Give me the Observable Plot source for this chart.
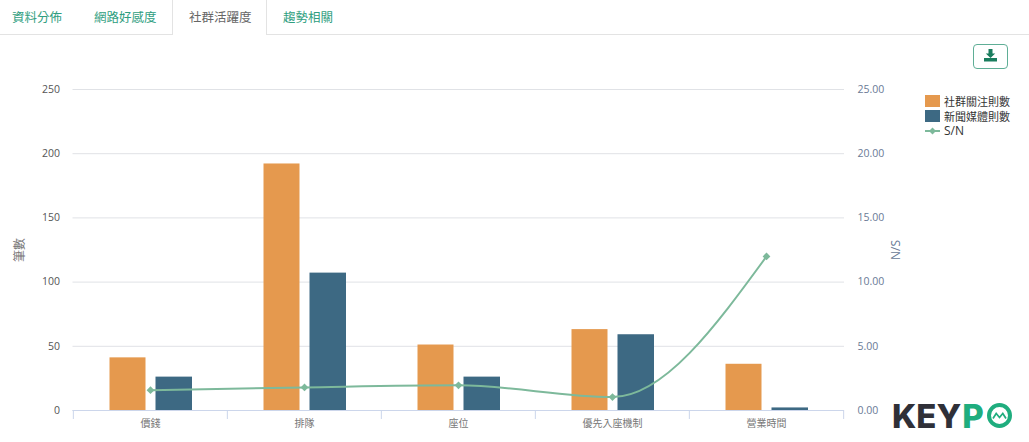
<!DOCTYPE html>
<html lang="zh-Hant"><head><meta charset="utf-8">
<script src="https://cdn.jsdelivr.net/npm/d3@7"></script>
<script src="https://cdn.jsdelivr.net/npm/@observablehq/plot@0.6"></script>
<style>
html,body{margin:0;padding:0;background:#fff;width:1029px;height:442px;overflow:hidden;font-family:"Open Sans","Noto Sans CJK TC",sans-serif}
#chart{position:absolute;left:0;top:0}
#chart svg{display:block;font-family:"Open Sans","Noto Sans CJK TC",sans-serif}
.tabline{position:absolute;left:0;top:34px;width:1029px;height:1px;background:#e3e3e3}
.tab{position:absolute;top:8px;font:12.5px "Noto Sans CJK TC",sans-serif;color:#2f9e80;white-space:nowrap;line-height:18px}
.active{position:absolute;left:172px;top:0;width:95px;height:35px;background:#fff;border-left:1px solid #e3e3e3;border-right:1px solid #e3e3e3;box-sizing:border-box}
.btn{position:absolute;left:973px;top:44px;width:35px;height:25px;border:1px solid #5fae96;border-radius:4px;box-sizing:border-box}
.btn svg{position:absolute;left:10px;top:3px}
.lg{position:absolute;left:944px;font:11px "Noto Sans CJK TC",sans-serif;color:#333;white-space:nowrap;line-height:14px}
.sw{position:absolute;left:925px;width:15px;height:12px}
.logo{position:absolute;left:892px;top:399px;font:800 33px/34px Inter,sans-serif;color:#2f3038;white-space:nowrap}
.logo b{color:#1fad7e;font-weight:800;margin-left:1px}
.mark{position:absolute;left:987px;top:403px}
</style></head><body>
<div id="chart"></div>
<div class="tabline"></div><div class="active"></div>
<div class="tab" style="left:12px">資料分佈</div>
<div class="tab" style="left:94px">網路好感度</div>
<div class="tab" style="left:189px;color:#666">社群活躍度</div>
<div class="tab" style="left:283px">趨勢相關</div>
<div class="btn"><svg width="13" height="15" viewBox="0 0 13 15"><path d="M4.5 1h4v4.5h2.7L6.5 10 1.8 5.5h2.7z" fill="#1a7d5e"/><rect x="0" y="10" width="13" height="3.5" fill="#1a7d5e"/></svg></div>
<div class="sw" style="top:95px;background:#e5994e"></div><div class="lg" style="top:94px">社群關注則數</div>
<div class="sw" style="top:110px;background:#3d6983"></div><div class="lg" style="top:109px">新聞媒體則數</div>
<svg style="position:absolute;left:925px;top:126px" width="15" height="10"><path d="M0 5H15" stroke="#7db99b" stroke-width="2"/><path d="M7.5 1.5L11 5 7.5 8.5 4 5z" fill="#7db99b"/></svg>
<div class="lg" style="top:124px;font:12px/14px 'Open Sans',sans-serif">S/N</div>
<div class="logo">KEY<b>P</b></div>
<svg class="mark" width="25" height="25" viewBox="0 0 25 25"><circle cx="12.5" cy="12.5" r="10.5" fill="none" stroke="#1fad7e" stroke-width="4"/><path d="M6 15.5l3.2-5 3.3 4 3.3-4 3.2 5" fill="none" stroke="#1fad7e" stroke-width="1.7"/></svg>
<script>
const categories = ["價錢","排隊","座位","優先入座機制","營業時間"];
const socialCounts = [41,192,51,63,36];
const newsCounts = [26,107,26,59,2];
const snRatio = [1.58,1.8,1.96,1.05,12];
const leftTicks = [0,50,100,150,200,250];
const axisRatio = 10; // right axis 0-25 sits on left axis 0-250

const bandW = (844-72.5)/categories.length;
const rows = categories.map((c,i)=>({c,social:socialCounts[i],news:newsCounts[i],sn:snRatio[i]}));
const slate = "#6a7a96";

const plot = Plot.plot({
  width:1029, height:442,
  marginLeft:72.5, marginRight:185, marginTop:89, marginBottom:32,
  style:{fontSize:"10.5px",background:"transparent"},
  x:{domain:categories,padding:0,label:null,axis:null},
  y:{domain:[0,250],label:null,axis:null},
  marks:[
    Plot.gridY(leftTicks,{stroke:"#e0e2e6",strokeOpacity:1,strokeWidth:1}),
    Plot.barY(rows,{x:"c",y:"social",fill:"#e5994e",insetLeft:36.5,insetRight:81.5}),
    Plot.barY(rows,{x:"c",y:"news",fill:"#3d6983",insetLeft:82.5,insetRight:35}),
    Plot.ruleY([0],{stroke:"#ccd6eb",strokeWidth:1}),
    Plot.axisX({tickSize:9,stroke:"#ccd6eb",fill:"none",dx:-bandW/2,label:null}),
    Plot.axisX(categories.slice(-1),{tickSize:9,stroke:"#ccd6eb",fill:"none",dx:bandW/2,label:null}),
    Plot.axisX({tickSize:0,tickPadding:9,fontSize:10,fill:"#777",label:null}),
    Plot.lineY(rows,{x:"c",y:d=>d.sn*axisRatio,stroke:"#7db99b",strokeWidth:2,curve:"monotone-x"}),
    Plot.dot(rows,{x:"c",y:d=>d.sn*axisRatio,symbol:"diamond2",r:3.5,fill:"#7db99b"}),
    Plot.axisY(leftTicks,{anchor:"left",tickSize:0,tickPadding:13,fill:"#555",label:null}),
    Plot.axisY(leftTicks,{anchor:"right",tickSize:0,tickPadding:13,fill:slate,label:null,tickFormat:d=>(d/axisRatio).toFixed(2)}),
    Plot.text(["筆數"],{frameAnchor:"left",textAnchor:"middle",dx:-53,rotate:-90,fontSize:12,fill:"#777"}),
    Plot.text(["N/S"],{frameAnchor:"right",textAnchor:"middle",dx:52,rotate:-90,fontSize:12,fill:slate})
  ]
});
document.getElementById("chart").append(plot);
</script>
</body></html>
